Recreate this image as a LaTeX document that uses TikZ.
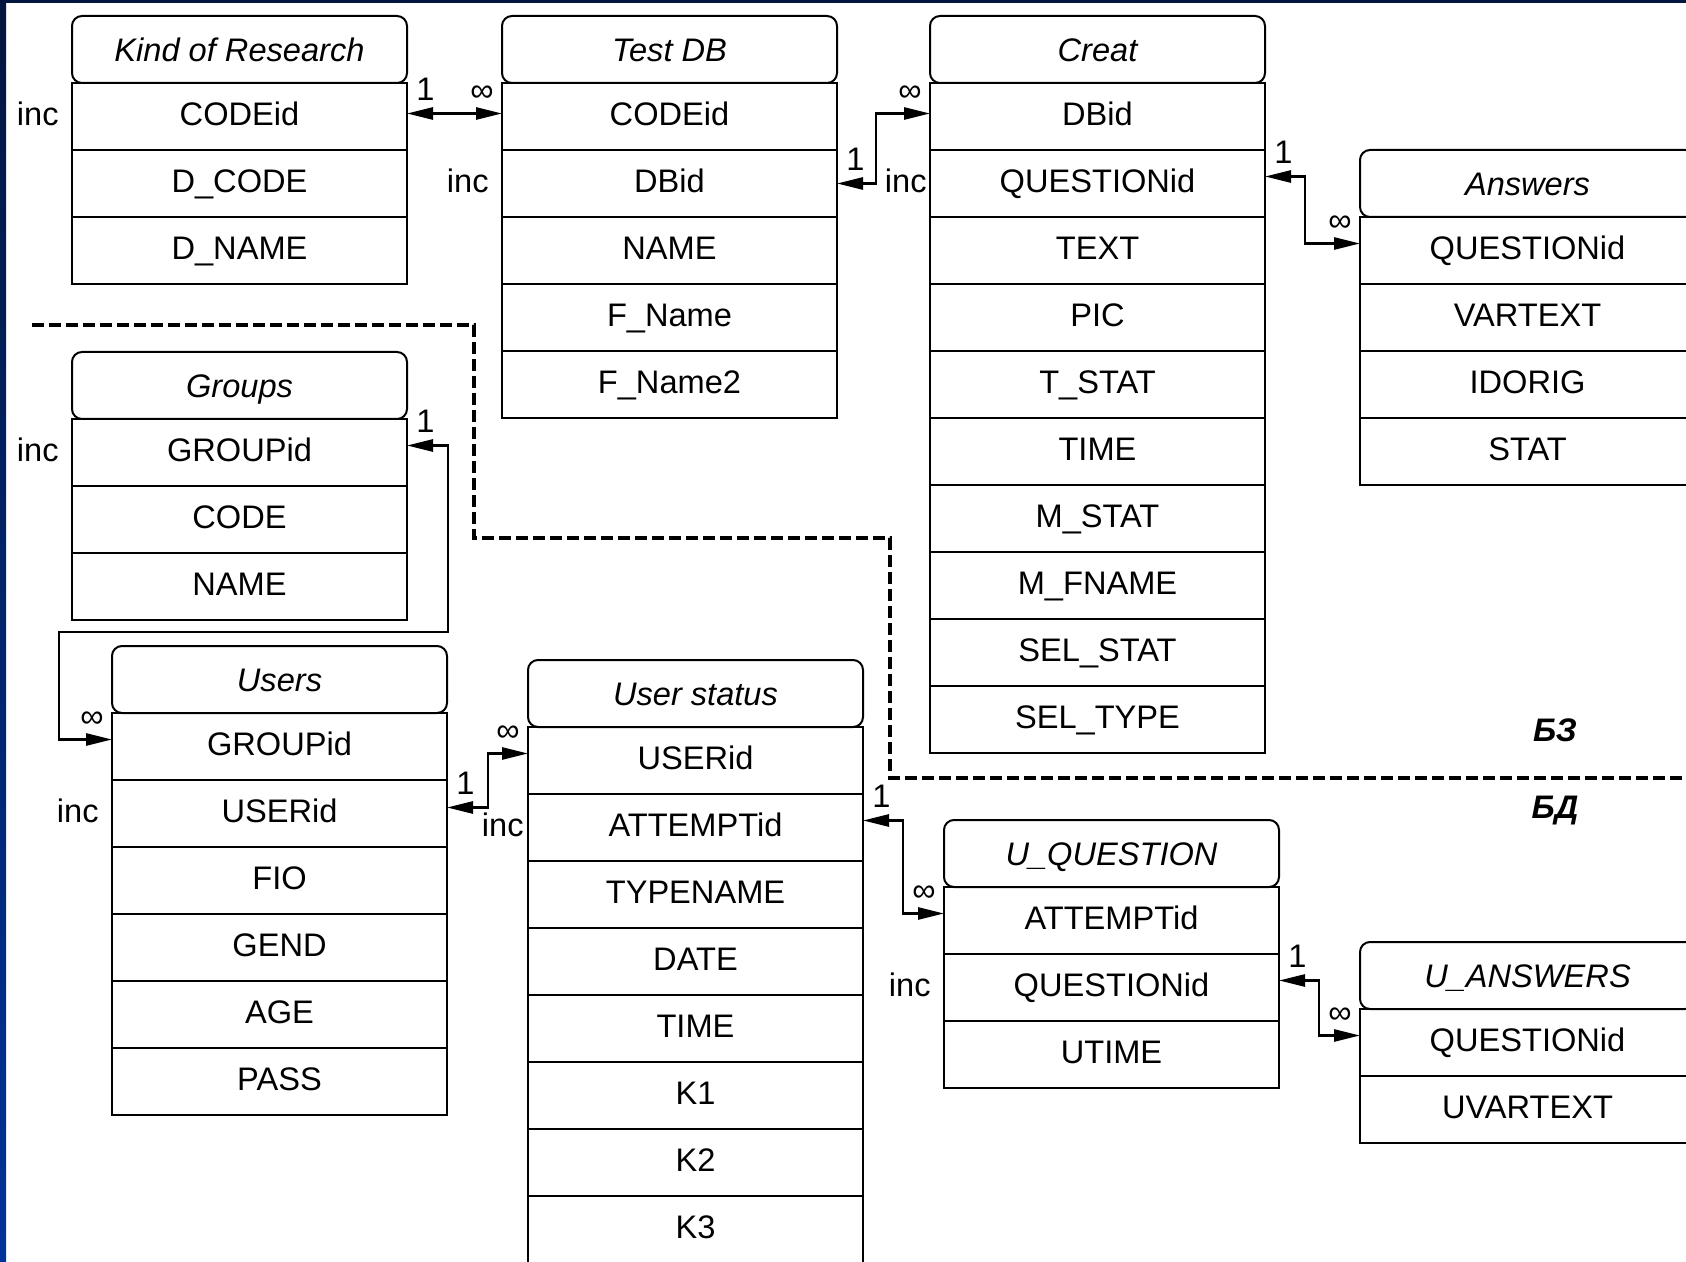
\documentclass[tikz,border=0pt]{standalone}
\usepackage{fontspec}
\setmainfont{Liberation Sans}
\usetikzlibrary{arrows.meta,positioning,calc}
\definecolor{navytop}{HTML}{03163F}
\definecolor{slideblue}{HTML}{003399}
\newcommand{\dbfont}{\fontsize{16.3}{19.6}\selectfont}

% one table: name, top-left corner, title, fields
\newcommand{\dbtable}[4]{%
  \node[tblhead] (#1) at (#2) {#3};
  \foreach \f [count=\i] in {#4}
    \node[tblrow] (#1-\i) at ([yshift={-(\i-1)*33.5pt}]#1.south) {\f};
}

\begin{document}
\begin{tikzpicture}[x=0.5pt, y=-0.5pt, font=\dbfont, >={Triangle[length=13pt,width=6pt]}]
  \tikzstyle{tblhead}=[draw, line width=1pt, rounded corners=5pt, anchor=north west, minimum width=167.5pt, minimum height=33.5pt, inner sep=0pt, outer sep=0pt, text height=11.9pt, text depth=0pt, font=\dbfont\itshape]
  \tikzstyle{tblrow}=[draw, line width=1pt, anchor=north, minimum width=167.5pt, minimum height=33.5pt, inner sep=0pt, outer sep=0pt, text height=11.7pt, text depth=3pt, font=\dbfont]
  \tikzstyle{inclbl}=[anchor=base east, inner sep=0pt]
  \tikzstyle{card1}=[anchor=south west, inner sep=0pt, xshift=4pt, yshift=6pt]
  \tikzstyle{cardn}=[anchor=center, inner sep=0pt, xshift=-10pt, yshift=10pt]
  \tikzstyle{relation}=[line width=1.3pt, <->]
  \tikzstyle{divider}=[line width=1.6pt, dash pattern=on 6pt off 2.5pt]

  \useasboundingbox (0,0) rectangle (1686,1262);
  \fill[white] (0,0) rectangle (1686,1262);

  % tables
  \dbtable{kor}{72,16}{Kind of Research}{CODEid,D\_CODE,D\_NAME}
  \dbtable{tdb}{502,16}{Test DB}{CODEid,DBid,NAME,F\_Name,F\_Name2}
  \dbtable{creat}{930,16}{Creat}{DBid,QUESTIONid,TEXT,PIC,T\_STAT,TIME,M\_STAT,M\_FNAME,SEL\_STAT,SEL\_TYPE}
  \dbtable{ans}{1360,150}{Answers}{QUESTIONid,VARTEXT,IDORIG,STAT}
  \dbtable{grp}{72,352}{Groups}{GROUPid,CODE,NAME}
  \dbtable{usr}{112,646}{Users}{GROUPid,USERid,FIO,GEND,AGE,PASS}
  \dbtable{ust}{528,660}{User status}{USERid,ATTEMPTid,TYPENAME,DATE,TIME,K1,K2,K3}
  \dbtable{uq}{944,820}{U\_QUESTION}{ATTEMPTid,QUESTIONid,UTIME}
  \dbtable{uans}{1360,942}{U\_ANSWERS}{QUESTIONid,UVARTEXT}

  % key markers
  \node[inclbl] (kor-inc) at ([xshift=-6.5pt]kor-1.base west) {inc};
  \node[inclbl] (tdb-inc) at ([xshift=-6.5pt]tdb-2.base west) {inc};
  \node[inclbl] (creat-inc) at ([xshift=-1.5pt]creat-2.base west) {inc};
  \node[inclbl] (grp-inc) at ([xshift=-6.5pt]grp-1.base west) {inc};
  \node[inclbl] (usr-inc) at ([xshift=-6.5pt]usr-2.base west) {inc};
  \node[inclbl] (ust-inc) at ([xshift=-2pt]ust-2.base west) {inc};
  \node[inclbl] (uq-inc) at ([xshift=-6.5pt]uq-2.base west) {inc};

  % relations
  \draw[relation] ([yshift=1.5pt]kor-1.east) node[card1] (m1) {1} -- ([yshift=1.5pt]tdb-1.west) node[cardn] (n1) {∞};
  \draw[relation] (tdb-2.east) node[card1] (m2) {1} -- ++(39,0) |- ([yshift=1.5pt]creat-1.west) node[cardn] (n2) {∞};
  \draw[relation] ([yshift=3.5pt]creat-2.east) node[card1] (m3) {1} -- ++(40,0) |- ([yshift=3.5pt]ans-1.west) node[cardn] (n3) {∞};
  \coordinate (grpbend) at (59,632);
  \draw[relation] ([yshift=3.5pt]grp-1.east) node[card1] (m4) {1} -- ++(41,0) |- (grpbend) |- ([yshift=3.5pt]usr-1.west) node[cardn] (n4) {∞};
  \draw[relation] ([yshift=3pt]usr-2.east) node[card1] (m5) {1} -- ++(41,0) |- ([yshift=3.5pt]ust-1.west) node[cardn] (n5) {∞};
  \draw[relation] ([yshift=3.5pt]ust-2.east) node[card1] (m6) {1} -- ++(40,0) |- ([yshift=3.5pt]uq-1.west) node[cardn] (n6) {∞};
  \draw[relation] ([yshift=3.5pt]uq-2.east) node[card1] (m7) {1} -- ++(40,0) |- ([yshift=3.5pt]uans-1.west) node[cardn] (n7) {∞};

  % knowledge base / data base split
  \draw[divider] (32,325) -| (474,538) -| (890,778) -- (1686,778);
  \node[font=\dbfont\bfseries\itshape] (bz) at (1555,730) {БЗ};
  \node[font=\dbfont\bfseries\itshape] (bd) at (1555,811) {БД};

  % slide frame
  \shade[top color=navytop, bottom color=slideblue] (0,0) rectangle (6,1262);
  \fill[navytop] (0,0) rectangle (1686,3.5);
\end{tikzpicture}
\end{document}
